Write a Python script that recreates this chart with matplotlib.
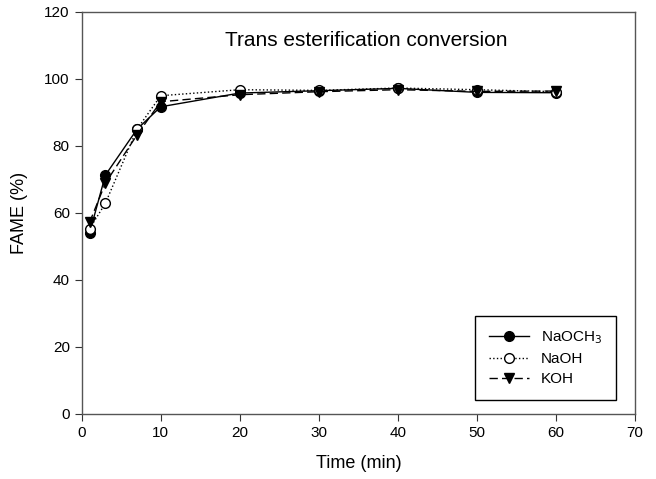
import numpy
from matplotlib import pyplot

pyplot.rcParams['font.family'] = ['Liberation Sans', 'DejaVu Sans']

time_min = [1, 3, 7, 10, 20, 30, 40, 50, 60]
fame_naoch3 = [54.0, 71.3, 85.0, 91.7, 95.8, 96.5, 97.2, 96.0, 95.9]
fame_naoh   = [55.3, 62.9, 85.0, 95.0, 96.8, 96.6, 97.3, 96.8, 96.2]
fame_koh    = [57.2, 68.9, 83.3, 93.2, 95.3, 96.2, 96.8, 96.3, 96.4]

fig = pyplot.figure(figsize=(6.56, 4.79), dpi=100)
ax = fig.add_axes([0.1245, 0.1357, 0.8435, 0.8393])

ax.plot(time_min, fame_naoch3, linestyle="-", color="black", linewidth=1.0,
        marker="o", markersize=7, markerfacecolor="black", markeredgecolor="black",
        label=r"NaOCH$_3$")
ax.plot(time_min, fame_naoh, linestyle=":", color="black", linewidth=1.0,
        marker="o", markersize=7, markerfacecolor="white", markeredgecolor="black",
        label="NaOH")
ax.plot(time_min, fame_koh, linestyle=(0, (6, 3)), color="black", linewidth=1.0,
        marker="v", markersize=7, markerfacecolor="black", markeredgecolor="black",
        label="KOH")

ax.set_xlim(0, 70)
ax.set_ylim(0, 120)
ax.set_xticks(range(0, 71, 10))
ax.set_yticks(range(0, 121, 20))
ax.tick_params(direction="out", length=5, labelsize=11, color="#333333")
for spine in ax.spines.values():
    spine.set_color("#555555")
    spine.set_linewidth(1.0)

ax.set_xlabel("Time (min)", fontsize=13, labelpad=11)
ax.set_ylabel("FAME (%)", fontsize=13, labelpad=12)
ax.text(0.515, 0.93, "Trans esterification conversion", transform=ax.transAxes,
        ha="center", va="center", fontsize=15)

leg = ax.legend(loc="lower right", bbox_to_anchor=(0.966, 0.035), fontsize=11,
                fancybox=False, edgecolor="black", framealpha=1.0,
                handlelength=2.6, borderpad=0.9, labelspacing=0.4,
                borderaxespad=0.0)
leg.get_frame().set_linewidth(1.0)

fig.savefig("out.png", dpi=100)
